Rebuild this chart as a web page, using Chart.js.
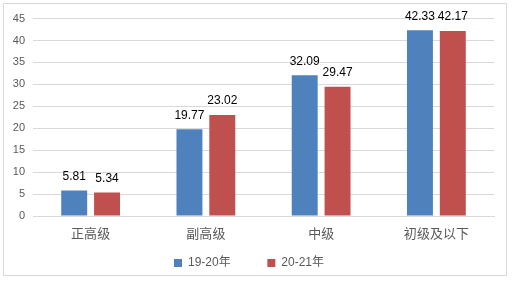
<!DOCTYPE html>
<html>
<head>
<meta charset="utf-8">
<script src="https://cdn.jsdelivr.net/npm/chart.js@4/dist/chart.umd.min.js"></script>
<style>
  body { margin: 0; background: #fff; }
  #frame { position: absolute; left: 3px; top: 3px; width: 504px; height: 273px;
           box-sizing: border-box; border: 1px solid #d9d9d9; }
  #wrap { position: absolute; left: 4px; top: 4px; width: 502px; height: 276px; }
</style>
</head>
<body>
<div id="frame"></div>
<div id="wrap"><canvas id="chart"></canvas></div>
<script>
// values
const categories = ['正高级', '副高级', '中级', '初级及以下'];
const seriesNames = ['19-20年', '20-21年'];
const values1920 = [5.81, 19.77, 32.09, 42.33];
const values2021 = [5.34, 23.02, 29.47, 42.17];
const yMin = 0, yMax = 45, yStep = 5;

const fontStack = '"Liberation Sans", "Noto Sans CJK SC", sans-serif';

// draws the value above each bar
const barValues = {
  id: 'barValues',
  afterDatasetsDraw(chart) {
    const ctx = chart.ctx;
    ctx.save();
    ctx.font = '12px ' + fontStack;
    ctx.fillStyle = '#000';
    ctx.textAlign = 'center';
    ctx.textBaseline = 'middle';
    chart.data.datasets.forEach((ds, i) => {
      chart.getDatasetMeta(i).data.forEach((bar, j) => {
        ctx.fillText(ds.data[j].toFixed(2), bar.x, bar.y - 14);
      });
    });
    ctx.restore();
  }
};

new Chart(document.getElementById('chart'), {
  type: 'bar',
  data: {
    labels: categories,
    datasets: [
      { label: seriesNames[0], data: values1920, backgroundColor: '#4f81bd', borderWidth: 0 },
      { label: seriesNames[1], data: values2021, backgroundColor: '#c0504d', borderWidth: 0 }
    ]
  },
  options: {
    responsive: true,
    maintainAspectRatio: false,
    animation: false,
    categoryPercentage: 0.57,
    barPercentage: 0.79,
    layout: { padding: { left: 0, right: 12, top: 14, bottom: 1 } },
    plugins: {
      tooltip: { enabled: false },
      legend: {
        position: 'bottom',
        labels: {
          boxWidth: 8,
          boxHeight: 8,
          padding: 10,
          color: '#595959',
          font: { size: 12, family: fontStack },
          generateLabels(chart) {
            const items = Chart.defaults.plugins.legend.labels.generateLabels(chart);
            items.forEach((it, i) => { if (i < items.length - 1) it.text += '        '; });
            return items;
          }
        }
      }
    },
    scales: {
      x: {
        grid: { display: false },
        border: { color: '#d9d9d9' },
        ticks: { color: '#595959', padding: 3, font: { size: 13, family: fontStack } },
        afterFit(s) { s.height = 31; }
      },
      y: {
        min: yMin,
        max: yMax,
        grid: { color: '#d9d9d9', drawTicks: false },
        border: { display: false },
        ticks: { stepSize: yStep, color: '#595959', padding: 8, font: { size: 11, family: fontStack } },
        afterFit(s) { s.width = 29; }
      }
    }
  },
  plugins: [barValues]
});
</script>
</body>
</html>
